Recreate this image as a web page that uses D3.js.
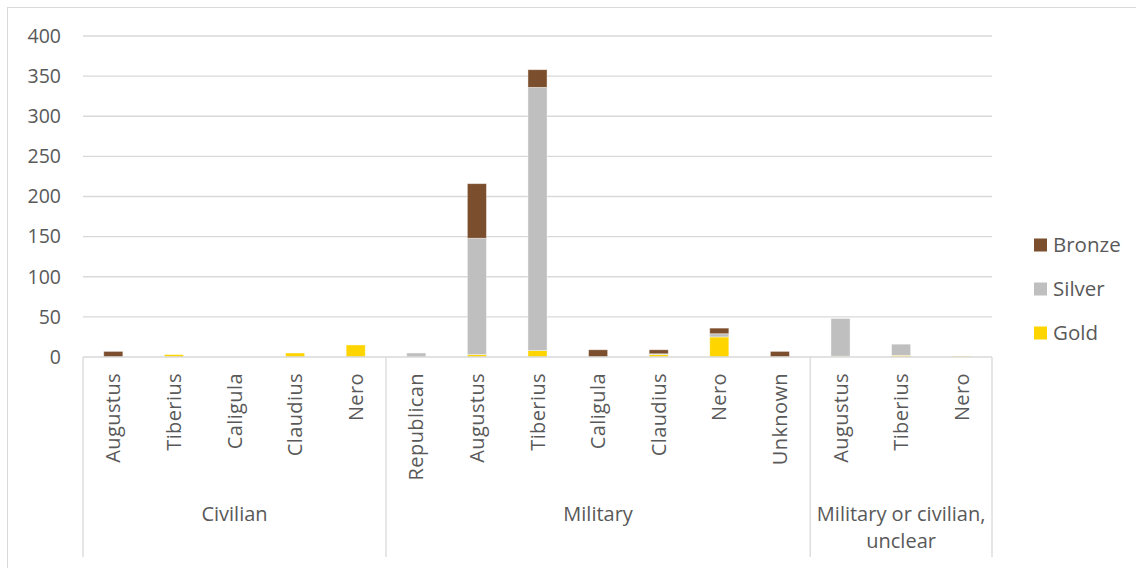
<!DOCTYPE html>
<html><head><meta charset="utf-8">
<script src="https://cdn.jsdelivr.net/npm/d3@7"></script>
<style>html,body{margin:0;padding:0;background:#fff;}svg{display:block;font-family:"Open Sans",sans-serif;}</style>
</head><body>
<svg id="chart" width="1136" height="568"></svg>
<script>
const groups = ["Civilian", "Military", "Military or civilian, unclear"];
const categories = ["Augustus","Tiberius","Caligula","Claudius","Nero",
  "Republican","Augustus","Tiberius","Caligula","Claudius","Nero","Unknown",
  "Augustus","Tiberius","Nero"];
const categoryGroup = [0,0,0,0,0, 1,1,1,1,1,1,1, 2,2,2];
const gold   = [0,3,0,5,15, 0,3,8,0,3,25,0, 1,2,1];
const silver = [0,0,0,0,0, 5,145,328,0,1,4,0, 47,14,0];
const bronze = [7,0,0,0,0, 0,68,22,9,5,7,7, 0,0,0];
const seriesNames = ["Gold","Silver","Bronze"];
const seriesColors = ["#FFD500","#BFBFBF","#7B4F2D"];
const yTicks = [0,50,100,150,200,250,300,350,400];

const svg = d3.select("#chart");
const L = 83, R = 992, T = 36, B = 357;

// outer border
svg.append("rect").attr("x",7.5).attr("y",7.5).attr("width",1140).attr("height",570)
  .attr("fill","none").attr("stroke","#d9d9d9").attr("stroke-width",1);

const keys = categories.map((c,i)=>i);
const x = d3.scaleBand().domain(keys).range([L,R]).paddingInner(0.685).paddingOuter(0.3425);
const y = d3.scaleLinear().domain([0,400]).range([B,T]);

// gridlines
svg.append("g").selectAll("line").data(yTicks.filter(t=>t>0)).join("line")
  .attr("x1",L).attr("x2",R).attr("y1",d=>y(d)).attr("y2",d=>y(d))
  .attr("stroke","#d9d9d9").attr("stroke-width",1.3);

// y axis labels
const yAxis = d3.axisLeft(y).tickValues(yTicks).tickSize(0).tickPadding(0);
const gy = svg.append("g").attr("transform",`translate(61,0)`).call(yAxis);
gy.select(".domain").remove();
gy.selectAll("text").attr("fill","#595959").style("font-size","19.5px").style("font-family","Open Sans");

// stacked data
const table = keys.map(i=>({key:i, Gold:gold[i], Silver:silver[i], Bronze:bronze[i]}));
const stack = d3.stack().keys(seriesNames)(table);
svg.append("g").selectAll("g").data(stack).join("g")
  .attr("fill",(d,i)=>seriesColors[i])
  .selectAll("rect").data(d=>d.filter(p=>p[1]-p[0]>0)).join("rect")
  .attr("x",d=>x(d.data.key)).attr("width",x.bandwidth())
  .attr("y",d=>y(d[1])).attr("height",d=>y(d[0])-y(d[1]))
  .attr("stroke","#ffffff").attr("stroke-opacity",0.5).attr("stroke-width",0.8);

// x axis baseline
svg.append("line").attr("x1",L).attr("x2",R).attr("y1",B).attr("y2",B)
  .attr("stroke","#d9d9d9").attr("stroke-width",1.3);

// group separators
const step = x.step();
const bounds = [0];
categoryGroup.forEach((g,i)=>{ if(i>0 && g!==categoryGroup[i-1]) bounds.push(i); });
bounds.push(categories.length);
const bx = i => i < categories.length ? x(i) - step*x.paddingInner()/2 : R;
svg.append("g").selectAll("line").data(bounds).join("line")
  .attr("x1",d=>bx(d)).attr("x2",d=>bx(d)).attr("y1",B).attr("y2",557)
  .attr("stroke","#d9d9d9").attr("stroke-width",1.3);

// category labels (rotated)
svg.append("g").selectAll("text").data(keys).join("text")
  .attr("transform",i=>`translate(${x(i)+x.bandwidth()/2+7},373) rotate(-90)`)
  .attr("text-anchor","end").attr("fill","#595959").style("font-size","20px")
  .style("letter-spacing","0.4px")
  .text(i=>categories[i]);

// group labels
groups.forEach((g,gi)=>{
  const s = bounds[gi], e = bounds[gi+1];
  const cx = (bx(s)+bx(e))/2;
  const lines = gi===2 ? ["Military or civilian,","unclear"] : [g];
  const t = svg.append("text").attr("text-anchor","middle").attr("fill","#595959")
    .style("font-size","20px");
  lines.forEach((ln,li)=>{
    t.append("tspan").attr("x",cx).attr("y",521+li*27).text(ln);
  });
});

// legend
const legendOrder = [2,1,0];
const lg = svg.append("g");
legendOrder.forEach((si,k)=>{
  const cy = 245 + k*44;
  lg.append("rect").attr("x",1034).attr("y",cy-6.5).attr("width",13).attr("height",13).attr("fill",seriesColors[si]);
  lg.append("text").attr("x",1053).attr("y",cy+7).attr("fill","#595959").style("font-size","20.5px").text(seriesNames[si]);
});
</script>
</body></html>
